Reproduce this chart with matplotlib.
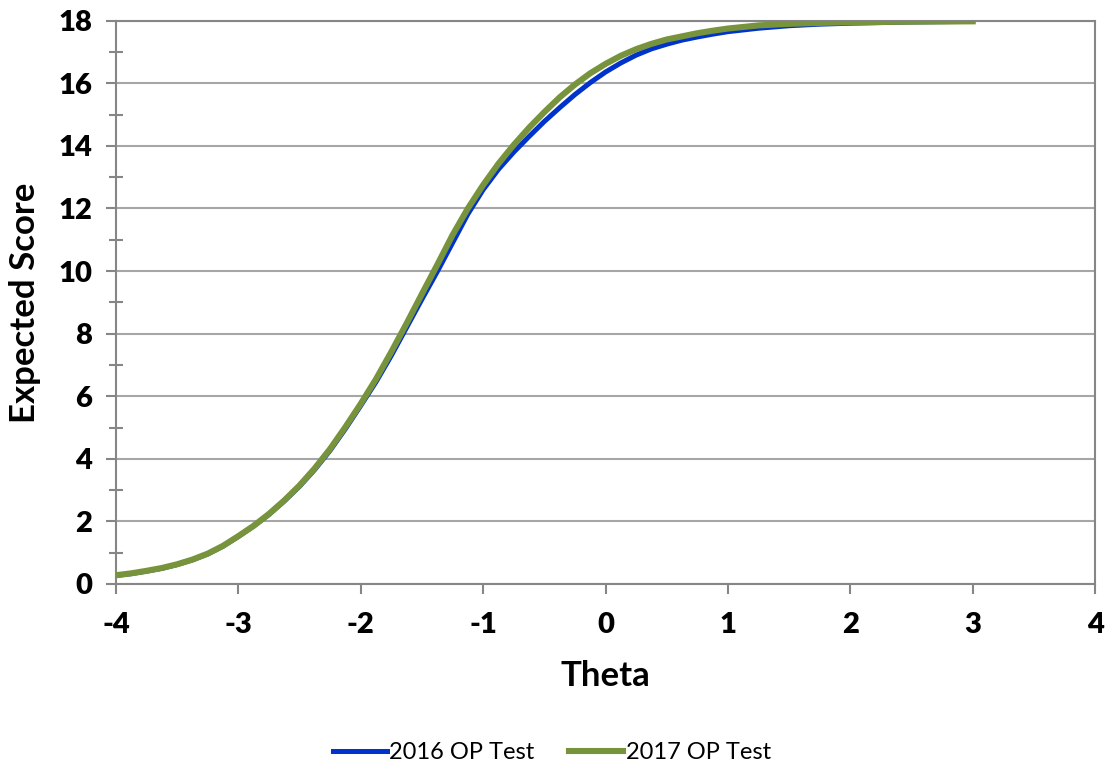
import matplotlib
matplotlib.use("Agg")
from matplotlib import pyplot as plt
from matplotlib.ticker import MultipleLocator

# Values
theta = [-4.0, -3.875, -3.75, -3.625, -3.5, -3.375, -3.25, -3.125, -3.0, -2.875, -2.75, -2.625,
         -2.5, -2.375, -2.25, -2.125, -2.0, -1.875, -1.75, -1.625, -1.5, -1.375, -1.25, -1.125,
         -1.0, -0.875, -0.75, -0.625, -0.5, -0.375, -0.25, -0.125, 0.0, 0.125, 0.25, 0.375,
         0.5, 0.625, 0.75, 0.875, 1.0, 1.25, 1.5, 1.75, 2.0, 2.5, 3.0]
score_2016 = [0.27, 0.33, 0.41, 0.5, 0.62, 0.77, 0.96, 1.21, 1.52, 1.85, 2.22, 2.65,
              3.12, 3.66, 4.27, 4.96, 5.7, 6.46, 7.3, 8.2, 9.1, 9.98, 10.9, 11.82,
              12.6, 13.25, 13.8, 14.3, 14.78, 15.22, 15.64, 16.02, 16.36, 16.65, 16.9, 17.1,
              17.25, 17.38, 17.48, 17.57, 17.65, 17.76, 17.84, 17.89, 17.92, 17.96, 17.98]
score_2017 = [0.28, 0.34, 0.42, 0.51, 0.63, 0.78, 0.97, 1.22, 1.53, 1.86, 2.24, 2.67,
              3.15, 3.7, 4.32, 5.02, 5.76, 6.55, 7.42, 8.33, 9.27, 10.2, 11.15, 12.0,
              12.75, 13.43, 14.03, 14.58, 15.08, 15.55, 15.96, 16.32, 16.62, 16.88, 17.09, 17.26,
              17.4, 17.5, 17.6, 17.68, 17.75, 17.85, 17.9, 17.93, 17.95, 17.97, 17.98]
series_labels = ["2016 OP Test", "2017 OP Test"]

plt.rcParams["font.family"] = ["Lato", "DejaVu Sans"]
plt.rcParams["font.weight"] = "bold"
plt.rcParams["axes.unicode_minus"] = False

fig = plt.figure(figsize=(11.08, 7.7), dpi=100)
ax = fig.add_axes([0.1047, 0.2416, 0.8836, 0.7315])

ax.plot(theta, score_2016, color="#0033CC", lw=3.6, label=series_labels[0], zorder=3)
ax.plot(theta, score_2017, color="#77933C", lw=4.4, label=series_labels[1], zorder=4)

ax.set_xlim(-4, 4)
ax.set_ylim(0, 18)
ax.xaxis.set_major_locator(MultipleLocator(1))
ax.yaxis.set_major_locator(MultipleLocator(2))
ax.yaxis.set_minor_locator(MultipleLocator(1))

ax.grid(axis="y", which="major", color="#A6A6A6", lw=1.5, zorder=1)
for side in ["left", "bottom", "right", "top"]:
    ax.spines[side].set_color("#868686")
    ax.spines[side].set_linewidth(1.5)

ax.tick_params(axis="both", which="major", direction="out", length=7.2, width=1.5,
               color="#868686", labelsize=21, pad=10)
ax.tick_params(axis="y", which="minor", direction="inout", length=10.5, width=1.5, color="#868686")
ax.tick_params(axis="x", which="major", pad=13)
# make the tick numbers heavy like the original
fig.canvas.draw()
for lab in ax.get_xticklabels() + ax.get_yticklabels():
    lab.set_fontweight("heavy")

ax.set_xlabel("Theta", fontsize=25, fontweight="bold", labelpad=16)
ax.set_ylabel("Expected Score", fontsize=25, fontweight="bold", labelpad=12)

fig.legend(loc="center", bbox_to_anchor=(0.498, 0.023), ncol=2, frameon=False,
           prop={"size": 17, "weight": "normal"},
           handlelength=2.3, handletextpad=0.1, columnspacing=1.45)

fig.savefig("out.png", dpi=100)
